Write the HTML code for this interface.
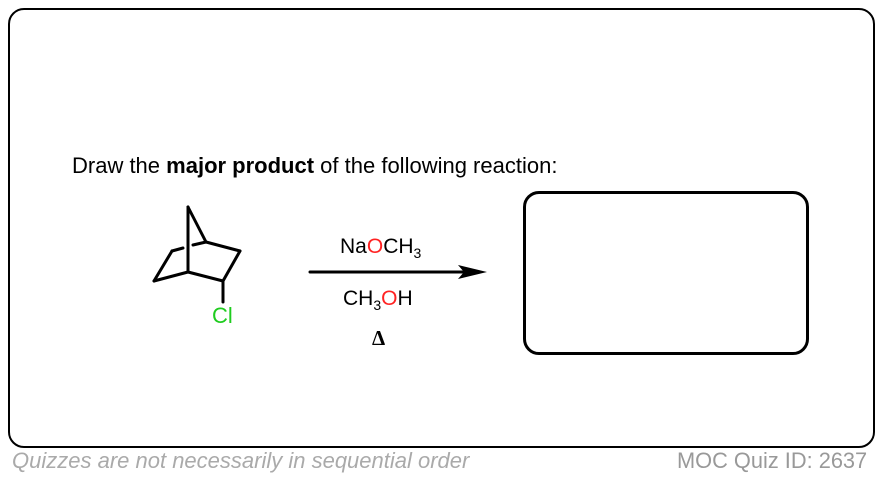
<!DOCTYPE html>
<html><head><style>
body{margin:0;width:882px;height:478px;background:#fff;font-family:"Liberation Sans",Arial,sans-serif;position:relative;overflow:hidden}
.box{position:absolute;left:8px;top:8px;width:867px;height:440px;border:2px solid #000;border-radius:16px;box-sizing:border-box}
.t{position:absolute;white-space:nowrap}
</style></head><body>
<div class="box"></div>
<div class="t" style="left:72px;top:153px;font-size:22px">Draw the <b>major product</b> of the following reaction:</div>
<svg style="position:absolute;left:0;top:0" width="882" height="478">
<g stroke="#000" stroke-width="3" fill="none" stroke-linecap="round">
<line x1="188" y1="207" x2="188" y2="272"/>
<line x1="188" y1="207" x2="206" y2="242"/>
<line x1="206" y1="242" x2="240" y2="251"/>
<line x1="240" y1="251" x2="223" y2="281"/>
<line x1="223" y1="281" x2="188" y2="272"/>
<line x1="188" y1="272" x2="154" y2="281"/>
<line x1="154" y1="281" x2="172" y2="251"/>
<line x1="172" y1="251" x2="183" y2="248"/>
<line x1="193" y1="245" x2="206" y2="242"/>
<line x1="223" y1="281" x2="223" y2="302"/>
<line x1="310" y1="272" x2="470" y2="272"/>
</g>
<polygon points="487,272 458,265 464,272 458,279" fill="#000"/>
</svg>
<div class="t" style="left:212px;top:303px;font-size:22px;color:#1fcc1f">Cl</div>
<div class="t" style="left:340px;top:235px;font-size:21px">Na<span style="color:#f22">O</span>CH<sub style="font-size:14px">3</sub></div>
<div class="t" style="left:343px;top:287px;font-size:21px">CH<sub style="font-size:14px">3</sub><span style="color:#f22">O</span>H</div>
<div class="t" style="left:372px;top:326px;font-size:21px;font-weight:bold;font-family:'Liberation Serif',serif">Δ</div>
<div style="position:absolute;left:523px;top:191px;width:286px;height:164px;border:3px solid #000;border-radius:16px;box-sizing:border-box"></div>
<div class="t" style="left:12px;top:448px;font-size:22px;font-style:italic;color:#aaa">Quizzes are not necessarily in sequential order</div>
<div class="t" style="left:677px;top:448px;font-size:21.8px;color:#999">MOC Quiz ID: 2637</div>
</body></html>
